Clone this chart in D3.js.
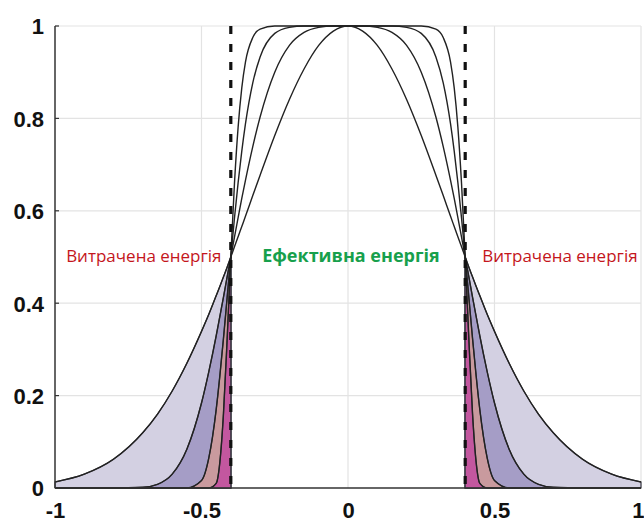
<!DOCTYPE html>
<html>
<head>
<meta charset="utf-8">
<script src="https://cdn.jsdelivr.net/npm/d3@7"></script>
<style>
  body { margin: 0; background: #fff; }
  .tick text { font-family: 'Liberation Sans', Arial, sans-serif; font-weight: bold; }
</style>
</head>
<body>
<script>
// half-profile sample positions (x >= 0), mirrored for x < 0
var xs    = [0, 0.05, 0.1, 0.15, 0.2, 0.25, 0.3, 0.325, 0.35, 0.3625, 0.375, 0.3875, 0.4, 0.4125, 0.425, 0.4375, 0.45, 0.475, 0.5, 0.55, 0.6, 0.65, 0.7, 0.8, 0.9, 1.0]
var gauss = [1, 0.989, 0.958, 0.907, 0.841, 0.763, 0.677, 0.633, 0.588, 0.566, 0.544, 0.522, 0.5, 0.478, 0.457, 0.436, 0.416, 0.376, 0.339, 0.270, 0.210, 0.160, 0.120, 0.0625, 0.030, 0.013]
var sg2   = [1, 1, 0.997, 0.986, 0.958, 0.900, 0.803, 0.739, 0.666, 0.627, 0.585, 0.543, 0.5, 0.457, 0.413, 0.371, 0.329, 0.252, 0.184, 0.084, 0.030, 0.008, 0.0015, 0, 0, 0]
var sg4   = [1, 1, 1, 1, 0.997, 0.984, 0.933, 0.877, 0.788, 0.729, 0.661, 0.584, 0.5, 0.412, 0.324, 0.242, 0.169, 0.065, 0.016, 0.0001, 0, 0, 0, 0, 0, 0]
var sg8   = [1, 1, 1, 1, 1, 1, 0.993, 0.975, 0.922, 0.866, 0.781, 0.659, 0.5, 0.322, 0.161, 0.055, 0.010, 0, 0, 0, 0, 0, 0, 0, 0, 0]

var xTicks = [-1, -0.5, 0, 0.5, 1]
var yTicks = [0, 0.2, 0.4, 0.6, 0.8, 1]
var cutoff = 0.4

var series = [
  { y: gauss, fill: '#d3d0e2' },
  { y: sg2,   fill: '#a59dc6' },
  { y: sg4,   fill: '#c99a9e' },
  { y: sg8,   fill: '#c3579f' }
]

var W = 644, H = 527
var margin = { top: 26, right: 3, bottom: 39, left: 55 }
var w = W - margin.left - margin.right
var h = H - margin.top - margin.bottom

var svg = d3.select('body').append('svg')
    .attr('width', W)
    .attr('height', H)
  .append('g')
    .attr('transform', 'translate(' + margin.left + ',' + margin.top + ')')

var xScale = d3.scaleLinear().domain([-1, 1]).range([0, w])
var yScale = d3.scaleLinear().domain([0, 1]).range([h, 0])

// full symmetric profile
function profile(ys) {
  var pts = []
  for (var i = xs.length - 1; i > 0; i--) pts.push([-xs[i], ys[i]])
  for (var j = 0; j < xs.length; j++) pts.push([xs[j], ys[j]])
  return pts
}

// grid
svg.append('g').selectAll('line.gx')
    .data(xTicks.filter(function (d) { return d !== -1 }))
    .enter().append('line')
    .attr('x1', function (d) { return xScale(d) })
    .attr('x2', function (d) { return xScale(d) })
    .attr('y1', yScale(0)).attr('y2', yScale(1))
    .attr('stroke', '#e3e3e3').attr('stroke-width', 1.2)
svg.append('g').selectAll('line.gy')
    .data(yTicks.filter(function (d) { return d !== 0 }))
    .enter().append('line')
    .attr('x1', 0).attr('x2', w)
    .attr('y1', function (d) { return yScale(d) })
    .attr('y2', function (d) { return yScale(d) })
    .attr('stroke', '#e3e3e3').attr('stroke-width', 1.2)

var area = d3.area()
    .x(function (d) { return xScale(d[0]) })
    .y0(yScale(0))
    .y1(function (d) { return yScale(d[1]) })
    .curve(d3.curveMonotoneX)

var line = d3.line()
    .x(function (d) { return xScale(d[0]) })
    .y(function (d) { return yScale(d[1]) })
    .curve(d3.curveMonotoneX)

// wasted-energy tails
series.forEach(function (s) {
  var pts = profile(s.y)
  var left = pts.filter(function (d) { return d[0] <= -cutoff + 1e-9 })
  var right = pts.filter(function (d) { return d[0] >= cutoff - 1e-9 })
  ;[left, right].forEach(function (part) {
    svg.append('path')
      .datum(part)
      .attr('d', area)
      .attr('fill', s.fill)
      .attr('stroke', '#3a3a44')
      .attr('stroke-width', 1.2)
  })
})

// curves
series.forEach(function (s) {
  svg.append('path')
    .datum(profile(s.y))
    .attr('d', line)
    .attr('fill', 'none')
    .attr('stroke', '#222')
    .attr('stroke-width', 1.4)
})

// dashed cutoffs
svg.selectAll('line.cut')
    .data([-cutoff, cutoff])
    .enter().append('line')
    .attr('x1', function (d) { return xScale(d) })
    .attr('x2', function (d) { return xScale(d) })
    .attr('y1', yScale(1)).attr('y2', yScale(0))
    .attr('stroke', '#111')
    .attr('stroke-width', 3.2)
    .attr('stroke-dasharray', '8,10')

// axes
var xAxis = d3.axisBottom(xScale).tickValues(xTicks).tickSize(0).tickPadding(14)
    .tickFormat(function (d) { return String(d) })
var yAxis = d3.axisLeft(yScale).tickValues(yTicks).tickSize(0).tickPadding(11)
    .tickFormat(function (d) { return String(d) })

var gx = svg.append('g')
    .attr('transform', 'translate(0,' + h + ')')
    .call(xAxis)
gx.select('.domain').remove()
gx.selectAll('text').attr('font-size', 22).attr('fill', '#111')
// last label sits against the window edge
gx.selectAll('.tick').filter(function (d) { return d === 1 })
    .select('text').attr('text-anchor', 'end').attr('x', margin.right)

var gy = svg.append('g').call(yAxis)
gy.select('.domain').remove()
gy.selectAll('text').attr('font-size', 22).attr('fill', '#111').attr('dy', '0.36em')

svg.append('line').attr('x1', 0).attr('x2', 0).attr('y1', 0).attr('y2', h)
    .attr('stroke', '#333').attr('stroke-width', 1.5)
svg.append('line').attr('x1', 0).attr('x2', w).attr('y1', h).attr('y2', h)
    .attr('stroke', '#333').attr('stroke-width', 1.5)
svg.selectAll('line.ytick')
    .data(yTicks)
    .enter().append('line')
    .attr('x1', 0).attr('x2', 4)
    .attr('y1', function (d) { return yScale(d) })
    .attr('y2', function (d) { return yScale(d) })
    .attr('stroke', '#333').attr('stroke-width', 1.2)

// annotations
var labels = [
  { text: 'Витрачена енергія', x: -0.962, color: '#c4161c', weight: 'normal', size: 17 },
  { text: 'Ефективна енергія', x: -0.293, color: '#17a04c', weight: 'bold', size: 18 },
  { text: 'Витрачена енергія', x: 0.458, color: '#c4161c', weight: 'normal', size: 17 }
]
svg.selectAll('text.note')
    .data(labels)
    .enter().append('text')
    .attr('class', 'note')
    .attr('x', function (d) { return xScale(d.x) })
    .attr('y', yScale(0.5) - 1)
    .attr('dy', '0.35em')
    .attr('font-family', "'Open Sans', 'Liberation Sans', sans-serif")
    .attr('font-size', function (d) { return d.size })
    .attr('font-weight', function (d) { return d.weight })
    .attr('fill', function (d) { return d.color })
    .text(function (d) { return d.text })
</script>
</body>
</html>
